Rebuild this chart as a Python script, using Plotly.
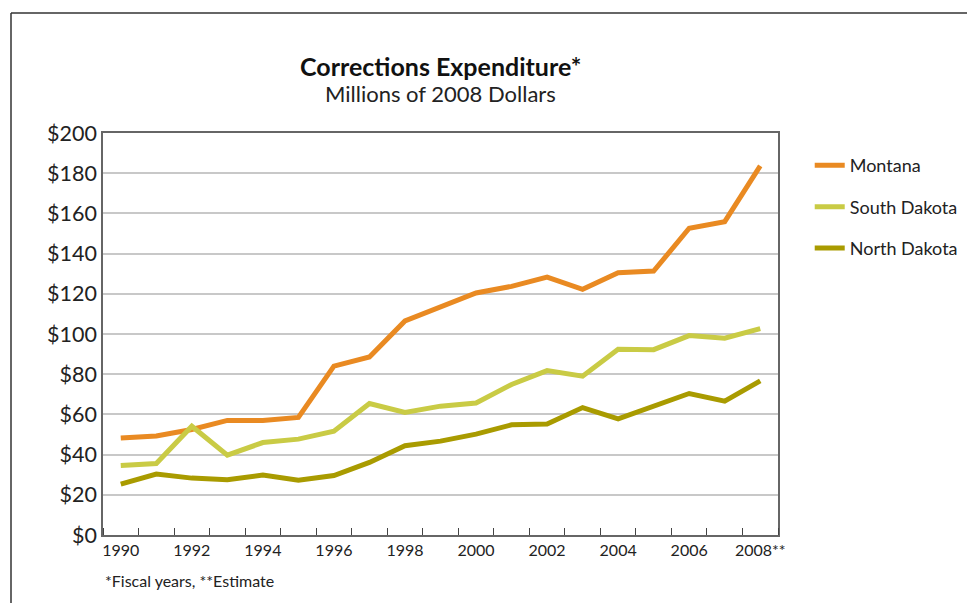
import plotly.graph_objects as go

years = list(range(1990, 2009))
montana = [48.2, 49.3, 52.5, 57.0, 57.0, 58.5, 84.0, 88.6, 106.5, 113.4, 120.4,
           123.7, 128.3, 122.2, 130.5, 131.3, 152.6, 155.9, 183.6]
south_dakota = [34.6, 35.6, 54.1, 39.7, 46.0, 47.7, 51.6, 65.4, 61.0, 64.1, 65.7,
                74.9, 81.8, 79.0, 92.4, 92.2, 99.2, 97.9, 102.7]
north_dakota = [25.3, 30.3, 28.3, 27.5, 29.8, 27.2, 29.6, 36.1, 44.4, 46.7, 50.2,
                54.8, 55.2, 63.4, 57.8, 64.1, 70.4, 66.6, 76.7]
series_names = ["Montana", "South Dakota", "North Dakota"]
series_colors = ["#E98A22", "#C9CB45", "#A99B00"]
tick_years = list(range(1990, 2009, 2))
tick_labels = [str(y) for y in tick_years[:-1]] + ["2008**"]
y_ticks = list(range(0, 201, 20))
y_labels = [f"${v}" for v in y_ticks]

FONT = "Lato"

fig = go.Figure()
for name, vals, col in zip(series_names, [montana, south_dakota, north_dakota], series_colors):
    fig.add_trace(go.Scatter(x=years, y=vals, mode="lines", name=name,
                             legendgroup=name,
                             line=dict(color=col, width=5)))

fig.update_layout(
    width=967, height=603,
    margin=dict(l=103, r=189, t=133, b=68, autoexpand=False),
    paper_bgcolor="white", plot_bgcolor="white",
    font=dict(family=FONT, color="#222"),
    showlegend=True,
    legend=dict(x=1.047, y=0.965, xanchor="left", yanchor="top",
                font=dict(size=18, family=FONT, color="#222"),
                tracegroupgap=15, bgcolor="rgba(0,0,0,0)"),
    xaxis=dict(range=[1989.5, 2008.5], tickmode="array", tickvals=tick_years,
               ticktext=tick_labels, ticks="", showgrid=False, zeroline=False,
               showline=True, mirror=True, linecolor="#666", linewidth=1.5,
               tickfont=dict(size=16, color="#222"),
               minor=dict(ticks="inside", tick0=1990.5, dtick=1, ticklen=7,
                          tickcolor="#444", tickwidth=1, showgrid=False)),
    yaxis=dict(range=[0, 200], tickmode="array", tickvals=y_ticks, ticktext=y_labels,
               showgrid=True, gridcolor="#C8C8C8", gridwidth=1.5, zeroline=False,
               showline=True, mirror=True, linecolor="#666", linewidth=1.5,
               ticks="", ticklen=6, tickfont=dict(size=21.5, color="#222")),
)

fig.add_annotation(text="<b>Corrections Expenditure*</b>", x=0.5, y=(535 - 66) / 402,
                   xref="paper", yref="paper", xanchor="center", yanchor="middle",
                   showarrow=False, font=dict(size=25, family=FONT, color="#111"))
fig.add_annotation(text="Millions of 2008 Dollars", x=0.5, y=(535 - 93) / 402,
                   xref="paper", yref="paper", xanchor="center", yanchor="middle",
                   showarrow=False, font=dict(size=22, family=FONT, color="#222"))
fig.add_annotation(text="*Fiscal years, **Estimate", x=0, y=-0.112, xref="paper", yref="paper",
                   xanchor="left", yanchor="middle", showarrow=False,
                   font=dict(size=16, family=FONT, color="#222"))

x_left = (11 - 103) / 675
y_top = (535 - 13) / 402
x_right = (967 - 103) / 675
y_bot = (535 - 610) / 402
fig.add_shape(type="line", xref="paper", yref="paper", x0=x_left, x1=x_left, y0=y_bot, y1=y_top,
              line=dict(color="#333", width=1.5))
fig.add_shape(type="line", xref="paper", yref="paper", x0=x_left, x1=x_right, y0=y_top, y1=y_top,
              line=dict(color="#333", width=1.5))

fig.write_html("out.html")
